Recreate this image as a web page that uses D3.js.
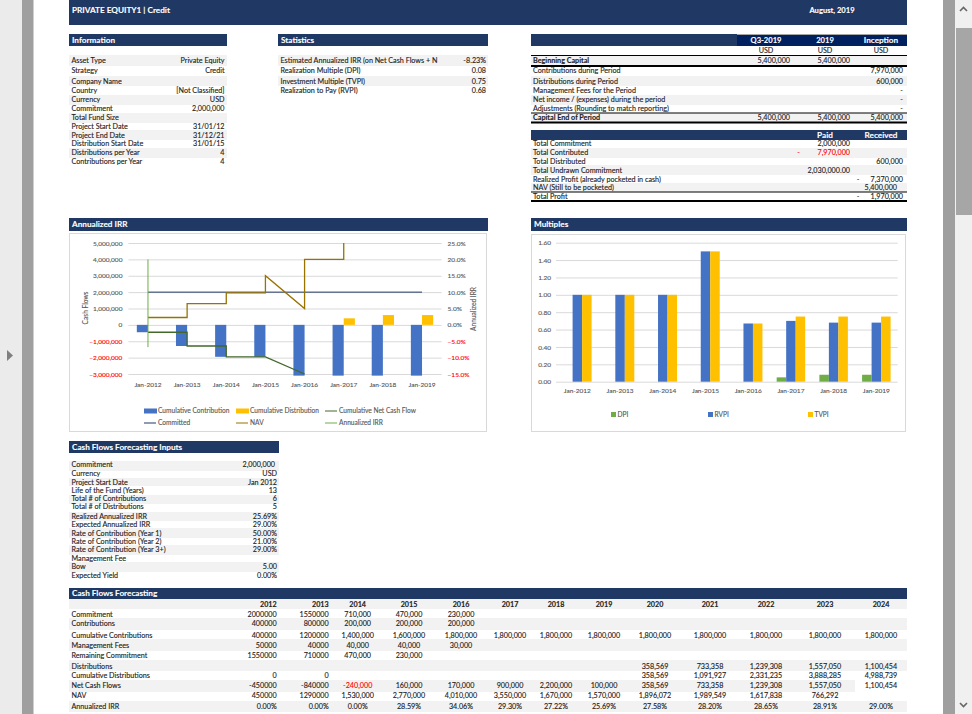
<!DOCTYPE html>
<html>
<head>
<meta charset="utf-8">
<script src="https://cdn.jsdelivr.net/npm/d3@7"></script>
<style>
body { margin: 0; background: #fff; }
svg { display: block; }
text { font-family: Lato, "Open Sans", sans-serif; font-size: 7.2px; fill: #222; stroke: #222; stroke-width: 0.12px; }
.band { font-weight: 700; fill: #fff; stroke: #fff; stroke-width: 0.1px; font-size: 8.2px; }
.small { font-size: 7.6px; }
.bold { font-weight: 700; }
.chart text { fill: #595959; stroke: #595959; font-size: 6.6px; }
.chart .tick text { font-size: 6.5px; }
.chart .neg text, .chart text.neg { fill: #ff0000; stroke: #ff0000; }
.chart .grid line { stroke: #d9d9d9; stroke-width: 1; }
</style>
</head>
<body>
<script>
// ---- data
const infoLabels = ['Asset Type', 'Strategy', 'Company Name', 'Country', 'Currency', 'Commitment', 'Total Fund Size',
                    'Project Start Date', 'Project End Date', 'Distribution Start Date', 'Distributions per Year', 'Contributions per Year'];
const infoValues = ['Private Equity', 'Credit', '', '[Not Classified]', 'USD', '2,000,000', '', '31/01/12', '31/12/21', '31/01/15', '4', '4'];

const statLabels = ['Estimated Annualized IRR (on Net Cash Flows + N', 'Realization Multiple (DPI)', 'Investment Multiple (TVPI)', 'Realization to Pay (RVPI)'];
const statValues = ['-8.23%', '0.08', '0.75', '0.68'];

const capitalHead = ['Q3-2019', '2019', 'Inception'];
const capitalLabels = ['Beginning Capital', 'Contributions during Period', 'Distributions during Period', 'Management Fees for the Period',
                       'Net income / (expenses) during the period', 'Adjustments (Rounding to match reporting)', 'Capital End of Period'];
const capitalQ3 = ['5,400,000', '', '', '', '', '', '5,400,000'];
const capital2019 = ['5,400,000', '', '', '', '', '', '5,400,000'];
const capitalInception = ['', '7,970,000', '600,000', '-', '-', '-', '5,400,000'];

const totalLabels = ['Total Commitment', 'Total Contributed', 'Total Distributed', 'Total Undrawn Commitment',
                     'Realized Profit (already pocketed in cash)', 'NAV (Still to be pocketed)', 'Total Profit'];
const totalPaid = ['2,000,000', '7,970,000', '', '2,030,000.00', '', '', ''];
const totalReceived = ['', '', '600,000', '', '7,370,000', '', '1,970,000'];

const months = ['Jan-2012', 'Jan-2013', 'Jan-2014', 'Jan-2015', 'Jan-2016', 'Jan-2017', 'Jan-2018', 'Jan-2019'];
const cumContribution = [-450000, -1290000, -1950000, -1950000, -3100000, -3100000, -3100000, -3100000];
const cumDistribution = [0, 0, 0, 0, 0, 400000, 600000, 600000];
const netFlowMonths = [0, 1, 1, 2, 2, 3, 4];
const netFlowValues = [-450000, -450000, -1290000, -1290000, -1950000, -1950000, -3000000];
const committedMonths = [0, 7];
const committedValues = [2000000, 2000000];
const navMonths = [0, 1, 1, 2, 2, 3, 3, 4, 4, 5, 5];
const navValues = [450000, 450000, 1300000, 1300000, 1950000, 1950000, 3000000, 1000000, 4000000, 4000000, 5000000];
const irrMonths = [0, 0];
const irrValues = [0.20, -0.068];

const dpi = [0, 0, 0, 0, 0, 0.05, 0.08, 0.08];
const rvpi = [1, 1, 1, 1.5, 0.67, 0.70, 0.68, 0.68];
const tvpi = [1, 1, 1, 1.5, 0.67, 0.75, 0.75, 0.75];

const inputLabels = ['Commitment', 'Currency', 'Project Start Date', 'Life of the Fund (Years)', 'Total # of Contributions', 'Total # of Distributions',
                     'Realized Annualized IRR', 'Expected Annualized IRR', 'Rate of Contribution (Year 1)', 'Rate of Contribution (Year 2)',
                     'Rate of Contribution (Year 3+)', 'Management Fee', 'Bow', 'Expected Yield'];
const inputValues = ['2,000,000', 'USD', 'Jan 2012', '13', '6', '5', '25.69%', '29.00%', '50.00%', '21.00%', '29.00%', '', '5.00', '0.00%'];

const years = ['2012', '2013', '2014', '2015', '2016', '2017', '2018', '2019', '2020', '2021', '2022', '2023', '2024'];
const forecastLabels = ['Commitment', 'Contributions', 'Cumulative Contributions', 'Management Fees', 'Remaining Commitment', 'Distributions',
                        'Cumulative Distributions', 'Net Cash Flows', 'NAV', 'Annualized IRR'];
const fcCommitment = ['2000000', '1550000', '710,000', '470,000', '230,000'];
const fcContributions = ['400000', '800000', '200,000', '200,000', '200,000'];
const fcCumContributions = ['400000', '1200000', '1,400,000', '1,600,000', '1,800,000', '1,800,000', '1,800,000', '1,800,000', '1,800,000', '1,800,000', '1,800,000', '1,800,000', '1,800,000'];
const fcFees = ['50000', '40000', '40,000', '40,000', '30,000'];
const fcRemaining = ['1550000', '710000', '470,000', '230,000'];
const fcDistributions = ['', '', '', '', '', '', '', '', '358,569', '733,358', '1,239,308', '1,557,050', '1,100,454'];
const fcCumDistributions = ['0', '0', '', '', '', '', '', '', '358,569', '1,091,927', '2,331,235', '3,888,285', '4,988,739'];
const fcNetFlows = ['-450000', '-840000', '-240,000', '160,000', '170,000', '900,000', '2,200,000', '100,000', '358,569', '733,358', '1,239,308', '1,557,050', '1,100,454'];
const fcNav = ['450000', '1290000', '1,530,000', '2,770,000', '4,010,000', '3,550,000', '1,670,000', '1,570,000', '1,896,072', '1,989,549', '1,617,838', '766,292', ''];
const fcIrr = ['0.00%', '0.00%', '0.00%', '28.59%', '34.06%', '29.30%', '27.22%', '25.69%', '27.58%', '28.20%', '28.65%', '28.91%', '29.00%'];
const forecastRows = [fcCommitment, fcContributions, fcCumContributions, fcFees, fcRemaining, fcDistributions, fcCumDistributions, fcNetFlows, fcNav, fcIrr];

// ---- layout
const navy = '#1f3864', shade = '#f2f2f2';
const infoEdges = [55, 66, 76, 86, 95, 105, 113, 123, 130, 140, 148, 158, 167];
const infoText = [60.5, 70.5, 81.5, 90.5, 99.5, 108.5, 117.5, 126.5, 135.5, 143.5, 152.5, 161.5];
const totalEdges = [140, 148, 158, 165, 175, 183, 192, 201];
const totalText = [143.5, 152.5, 161.5, 170.5, 179.5, 187.5, 196.5];
const inputEdges = [461, 471, 478, 486, 495, 504, 512, 521, 528, 538, 545, 555, 562, 572];
const inputText = [465, 474, 482.5, 491, 499, 507, 516.5, 524.5, 533.5, 541.5, 550, 558.5, 566.5, 575.5];
const forecastEdges = [599, 609, 618, 630, 639, 651, 660, 671, 680, 692, 701, 712];
const forecastText = [614.5, 624, 635.5, 645.5, 655.5, 666.5, 676, 686, 696, 707];
const colAnchor = ['end', 'end', 'middle', 'middle', 'middle', 'middle', 'middle', 'middle', 'middle', 'middle', 'middle', 'middle', 'middle'];
const colX = [276.7, 328.7, 357.7, 409, 461, 510, 556, 604, 655, 710, 766, 825, 881];

const svg = d3.select('body').append('svg').attr('width', 972).attr('height', 714);

function rect(x, y, w, h, fill) {
    return svg.append('rect').attr('x', x).attr('y', y).attr('width', w).attr('height', h).attr('fill', fill);
}
function label(x, y, str, anchor, cls, color) {
    const t = svg.append('text').attr('x', x).attr('y', y).attr('dy', '0.34em')
                 .attr('text-anchor', anchor || 'start').text(str);
    if (cls) t.attr('class', cls);
    if (color) t.style('fill', color).style('stroke', color);
    return t;
}
function band(x, y, w, h, str) {
    rect(x, y, w, h, navy);
    if (str) label(x + 3, y + h / 2, str, 'start', 'band');
}
function stripes(edges, x, w) {
    for (let i = 0; i + 1 < edges.length; i += 2) rect(x, edges[i], w, edges[i + 1] - edges[i], shade);
}
function rule(x1, x2, y, weight) {
    svg.append('line').attr('x1', x1).attr('x2', x2).attr('y1', y).attr('y2', y)
       .attr('stroke', '#000').attr('stroke-width', weight);
}

// ---- window chrome
rect(0, 0, 22, 714, '#ebebeb');
rect(22, 0, 11.5, 714, '#9f9f9f');
rect(943, 0, 12, 714, '#9f9f9f');
rect(955, 0, 17, 714, '#f0f0f0');
rect(956, 28, 16, 187, '#a6a6a6');
svg.append('path').attr('d', 'M7 350L13 355.5L7 361Z').attr('fill', '#808080');
svg.append('path').attr('d', 'M960 11L963.5 7.5L967 11').attr('fill', 'none').attr('stroke', '#666').attr('stroke-width', 1.6);
svg.append('path').attr('d', 'M960 703L963.5 706.5L967 703').attr('fill', 'none').attr('stroke', '#666').attr('stroke-width', 1.6);

// ---- header
band(69, 0, 838, 25);
label(72, 10, 'PRIVATE EQUITY1 | Credit', 'start', 'band');
label(832, 10, 'August, 2019', 'middle', 'band small');

// ---- information and statistics
band(69, 34, 158, 12, 'Information');
stripes(infoEdges, 69, 158);
infoLabels.forEach((d, i) => {
    label(71.5, infoText[i], d);
    label(224.5, infoText[i], infoValues[i], 'end');
});
band(278, 34, 210, 12, 'Statistics');
stripes(infoEdges.slice(0, 5), 278, 210);
statLabels.forEach((d, i) => {
    label(280.5, infoText[i], d);
    label(486, infoText[i], statValues[i], 'end');
});

// ---- capital table
band(531, 34, 376, 12);
rect(737, 34, 170, 12, '#002060');
rect(737, 34, 170, 1, '#a6a6a6');
const capitalCenter = [766, 825, 881], capitalRight = [790, 850, 903];
capitalHead.forEach((d, i) => {
    label(capitalCenter[i], 40, d, 'middle', i === 2 ? 'band' : 'band small');
    label(capitalCenter[i], 50.5, 'USD', 'middle');
});
stripes(infoEdges.slice(0, 6), 531, 376);
rect(531, 113, 376, 9, shade);
capitalLabels.forEach((d, i) => {
    const bold = i === 0 || i === 6;
    const y = infoText[i];
    label(533, y, d, 'start', bold ? 'bold' : null);
    [capitalQ3, capital2019, capitalInception].forEach((col, c) => {
        label(capitalRight[c], y, col[i], 'end');
    });
});
rule(531, 907, 55.5, 1);
rule(531, 907, 66, 2);
rule(531, 907, 113, 1);
rule(531, 907, 122.5, 2);

// ---- totals table
band(531, 130, 376, 10);
label(825, 135, 'Paid', 'middle', 'band');
label(881, 135, 'Received', 'middle', 'band');
stripes(totalEdges.slice(1, 7), 531, 376);
totalLabels.forEach((d, i) => {
    label(533, totalText[i], d);
    label(850, totalText[i], totalPaid[i], 'end', null, i === 1 ? '#ff0000' : null);
    label(903, totalText[i], totalReceived[i], 'end');
});
label(798.5, totalText[1], '-', 'middle', null, '#ff0000');
label(858, totalText[4], '-', 'middle');
label(897, totalText[5], '5,400,000', 'end');
label(858, totalText[6], '-', 'middle');
rule(531, 907, 192, 1);
rule(531, 907, 201, 2);

// ---- annualized IRR chart
band(69, 218, 419, 13, 'Annualized IRR');
svg.append('rect').attr('x', 69.5).attr('y', 233.5).attr('width', 417).attr('height', 198)
   .attr('fill', '#fff').attr('stroke', '#d9d9d9');

const irrChart = svg.append('g').attr('class', 'chart');
const x1 = d3.scaleBand().domain(months).range([128.4, 441.6]).paddingInner(0.43).paddingOuter(0.215);
const y1 = d3.scaleLinear().domain([-3000000, 5000000]).range([374, 243]);
const y1r = d3.scaleLinear().domain([-0.15, 0.25]).range([374, 243]);
const cx1 = i => x1(months[i]) + x1.bandwidth() / 2;

irrChart.append('g').attr('class', 'grid').attr('transform', 'translate(128.4,0)')
    .call(d3.axisLeft(y1).ticks(8).tickSize(-313.2).tickPadding(6).tickFormat(d3.format(',')))
    .call(g => g.select('.domain').remove())
    .call(g => g.selectAll('.tick').classed('neg', d => d < 0));
irrChart.append('g').attr('transform', 'translate(441.6,0)')
    .call(d3.axisRight(y1r).ticks(8).tickSize(0).tickPadding(6).tickFormat(d3.format('.1%')))
    .call(g => g.select('.domain').remove())
    .call(g => g.selectAll('.tick').classed('neg', d => d < 0));
irrChart.append('g').attr('transform', 'translate(0,374)')
    .call(d3.axisBottom(x1).tickSize(0).tickPadding(8.4))
    .call(g => g.select('.domain').remove());

irrChart.selectAll('.contrib').data(cumContribution).join('rect').attr('class', 'contrib')
    .attr('x', (d, i) => cx1(i) - x1.bandwidth() / 2)
    .attr('width', x1.bandwidth() / 2)
    .attr('y', y1(0)).attr('height', d => y1(d) - y1(0)).attr('fill', '#4472c4');
irrChart.selectAll('.distrib').data(cumDistribution).join('rect').attr('class', 'distrib')
    .attr('x', (d, i) => cx1(i))
    .attr('width', x1.bandwidth() / 2)
    .attr('y', d => y1(d)).attr('height', d => y1(0) - y1(d)).attr('fill', '#ffc000');

function series(idx, vals, scale, color, width) {
    const line = d3.line().x(d => cx1(d[0])).y(d => scale(d[1]));
    irrChart.append('path').attr('d', line(d3.zip(idx, vals)))
        .attr('fill', 'none').attr('stroke', color).attr('stroke-width', width);
}
series(committedMonths, committedValues, y1, navy, 1);
series(netFlowMonths, netFlowValues, y1, '#43682b', 1.3);
series(navMonths, navValues, y1, '#997300', 1.3);
series(irrMonths, irrValues, y1r, '#70ad47', 1);

irrChart.append('text').attr('transform', 'translate(86,308) rotate(-90)').attr('text-anchor', 'middle').attr('dy', '0.34em').text('Cash Flows');
irrChart.append('text').attr('transform', 'translate(474,309) rotate(-90)').attr('text-anchor', 'middle').attr('dy', '0.34em').text('Annualized IRR');

const legendIrr = [
    { name: 'Cumulative Contribution', x: 144, y: 411, color: '#4472c4', bar: true },
    { name: 'Cumulative Distribution', x: 236, y: 411, color: '#ffc000', bar: true },
    { name: 'Cumulative Net Cash Flow', x: 325, y: 411, color: '#43682b' },
    { name: 'Committed', x: 144, y: 423, color: navy },
    { name: 'NAV', x: 236, y: 423, color: '#997300' },
    { name: 'Annualized IRR', x: 325, y: 423, color: '#70ad47' }
];
legendIrr.forEach(d => {
    if (d.bar) irrChart.append('rect').attr('x', d.x).attr('y', d.y - 2.5).attr('width', 13).attr('height', 5).attr('fill', d.color);
    else irrChart.append('line').attr('x1', d.x).attr('x2', d.x + 12).attr('y1', d.y).attr('y2', d.y).attr('stroke', d.color).attr('stroke-width', 1);
    irrChart.append('text').attr('x', d.x + 14).attr('y', d.y).attr('dy', '0.34em').text(d.name);
});

// ---- multiples chart
band(531, 218, 376, 13, 'Multiples');
svg.append('rect').attr('x', 531.5).attr('y', 234.5).attr('width', 374).attr('height', 197)
   .attr('fill', '#fff').attr('stroke', '#d9d9d9');

const multChart = svg.append('g').attr('class', 'chart');
const x2 = d3.scaleBand().domain(months).range([556, 897.7]).paddingInner(0.333).paddingOuter(0.1665);
const x2s = d3.scaleBand().domain(['DPI', 'RVPI', 'TVPI']).range([0, x2.bandwidth()]);
const y2 = d3.scaleLinear().domain([0, 1.6]).range([381.7, 242.7]);

multChart.append('g').attr('class', 'grid').attr('transform', 'translate(556,0)')
    .call(d3.axisLeft(y2).ticks(8).tickSize(-341.7).tickPadding(5).tickFormat(d3.format('.2f')))
    .call(g => g.select('.domain').remove());
multChart.append('g').attr('transform', 'translate(0,381.7)')
    .call(d3.axisBottom(x2).tickSize(0).tickPadding(7))
    .call(g => g.select('.domain').remove());

[['DPI', dpi, '#70ad47'], ['RVPI', rvpi, '#4472c4'], ['TVPI', tvpi, '#ffc000']].forEach(([name, vals, color]) => {
    multChart.append('g').selectAll('rect').data(vals).join('rect')
        .attr('x', (d, i) => x2(months[i]) + x2s(name))
        .attr('width', x2s.bandwidth())
        .attr('y', d => y2(d)).attr('height', d => y2(0) - y2(d)).attr('fill', color);
});

const legendMult = [
    { name: 'DPI', x: 611, color: '#70ad47' },
    { name: 'RVPI', x: 708, color: '#4472c4' },
    { name: 'TVPI', x: 808, color: '#ffc000' }
];
legendMult.forEach(d => {
    multChart.append('rect').attr('x', d.x).attr('y', 412).attr('width', 5).attr('height', 5).attr('fill', d.color);
    multChart.append('text').attr('x', d.x + 6.5).attr('y', 414.7).attr('dy', '0.34em').text(d.name);
});

// ---- forecasting inputs
band(69, 441, 210, 12, 'Cash Flows Forecasting Inputs');
stripes(inputEdges, 69, 210);
inputLabels.forEach((d, i) => {
    label(71.5, inputText[i], d);
    label(i === 0 ? 275 : 277, inputText[i], inputValues[i], 'end');
});

// ---- forecasting table
band(69, 588, 838, 11, 'Cash Flows Forecasting');
stripes(forecastEdges.slice(0, 2), 69, 838);
stripes(forecastEdges.slice(2, 6), 69, 838);
stripes(forecastEdges.slice(6, 8), 69, 838);
rect(69, 680, 786, 12, shade);
rect(69, 701, 838, 11, shade);
years.forEach((d, i) => label(colX[i], 604.7, d, colAnchor[i], 'bold'));
forecastLabels.forEach((d, r) => {
    label(71.5, forecastText[r], d);
    forecastRows[r].forEach((v, c) => {
        label(colX[c], forecastText[r], v, colAnchor[c], null, v === '-240,000' ? '#ff0000' : null);
    });
});
</script>
</body>
</html>
